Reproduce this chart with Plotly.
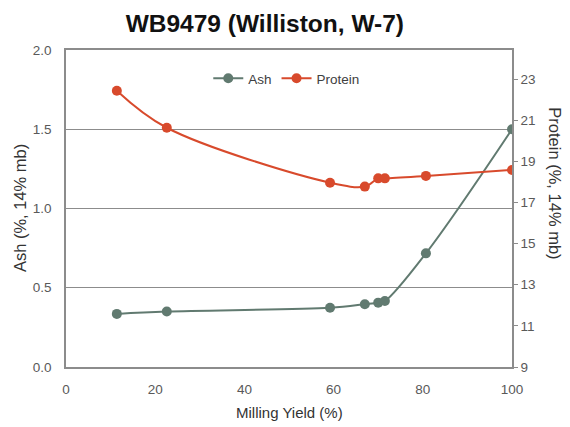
import plotly.graph_objects as go

milling_yield = [11.4, 22.6, 59.2, 67.0, 70.0, 71.5, 80.7, 100.0]
ash = [0.335, 0.35, 0.374, 0.396, 0.406, 0.416, 0.717, 1.50]
protein = [22.43, 20.63, 17.96, 17.77, 18.17, 18.17, 18.29, 18.58]

ash_color = "#617a70"
protein_color = "#d84a2c"
grid_color = "#8c8c8c"
tick_color = "#595959"
title_color = "#333333"
font_family = "Liberation Sans, Arial, sans-serif"

fig = go.Figure()
fig.add_trace(go.Scatter(
    x=milling_yield, y=ash, name="Ash", mode="lines+markers",
    line=dict(color=ash_color, width=2, shape="spline", smoothing=1.0),
    marker=dict(color=ash_color, size=10), yaxis="y"))
fig.add_trace(go.Scatter(
    x=milling_yield, y=protein, name="Protein", mode="lines+markers",
    line=dict(color=protein_color, width=2, shape="spline", smoothing=1.0),
    marker=dict(color=protein_color, size=10), yaxis="y2"))

fig.update_layout(
    width=562, height=419,
    margin=dict(l=58, r=58, t=42, b=60, autoexpand=False),
    paper_bgcolor="white", plot_bgcolor="white",
    font=dict(family=font_family, color=tick_color, size=13),
    title=dict(text="<b>WB9479 (Williston, W-7)</b>", x=0.457, xanchor="center",
               y=0.963, yanchor="middle",
               font=dict(size=24.5, color="#111111", family=font_family)),
    showlegend=True,
    legend=dict(orientation="h", x=0.495, xanchor="center", y=0.91, yanchor="middle",
                bgcolor="rgba(0,0,0,0)", font=dict(size=13.5, color="#404040"),
                itemwidth=30, tracegroupgap=0),
    xaxis=dict(range=[0, 100], tickvals=[0, 20, 40, 60, 80, 100],
               showgrid=False, zeroline=False, showline=True, linecolor=grid_color,
               linewidth=1.5, mirror=True, ticks="", automargin=False,
               ticklabelstandoff=9,
               tickfont=dict(size=13.5, color=tick_color)),
    yaxis=dict(range=[0, 2.0], tickvals=[0, 0.5, 1.0, 1.5, 2.0], tickformat=".1f",
               showgrid=True, gridcolor=grid_color, gridwidth=1.2, zeroline=False,
               showline=True, linecolor=grid_color, linewidth=1.5, ticks="", automargin=False,
               ticklabelstandoff=10,
               tickfont=dict(size=13.5, color=tick_color)),
    yaxis2=dict(range=[9, 24.41], tickvals=[9, 11, 13, 15, 17, 19, 21, 23],
                overlaying="y", side="right", showgrid=False, zeroline=False,
                showline=True, linecolor=grid_color, linewidth=1.5, automargin=False,
                ticks="outside", ticklen=4, tickcolor=grid_color,
                tickfont=dict(size=13.5, color=tick_color)),
    annotations=[
        dict(text="Milling Yield (%)", xref="paper", yref="paper", x=0.5, y=-0.142,
             xanchor="center", yanchor="middle", showarrow=False,
             font=dict(size=15, color=title_color)),
        dict(text="Ash (%, 14% mb)", xref="paper", yref="paper", x=-0.104, y=0.5,
             xanchor="center", yanchor="middle", showarrow=False, textangle=-90,
             font=dict(size=16.5, color=title_color)),
        dict(text="Protein (%, 14% mb)", xref="paper", yref="paper", x=1.096, y=0.58,
             xanchor="center", yanchor="middle", showarrow=False, textangle=90,
             font=dict(size=16.5, color=title_color)),
    ],
)

fig.write_html("out.html")
